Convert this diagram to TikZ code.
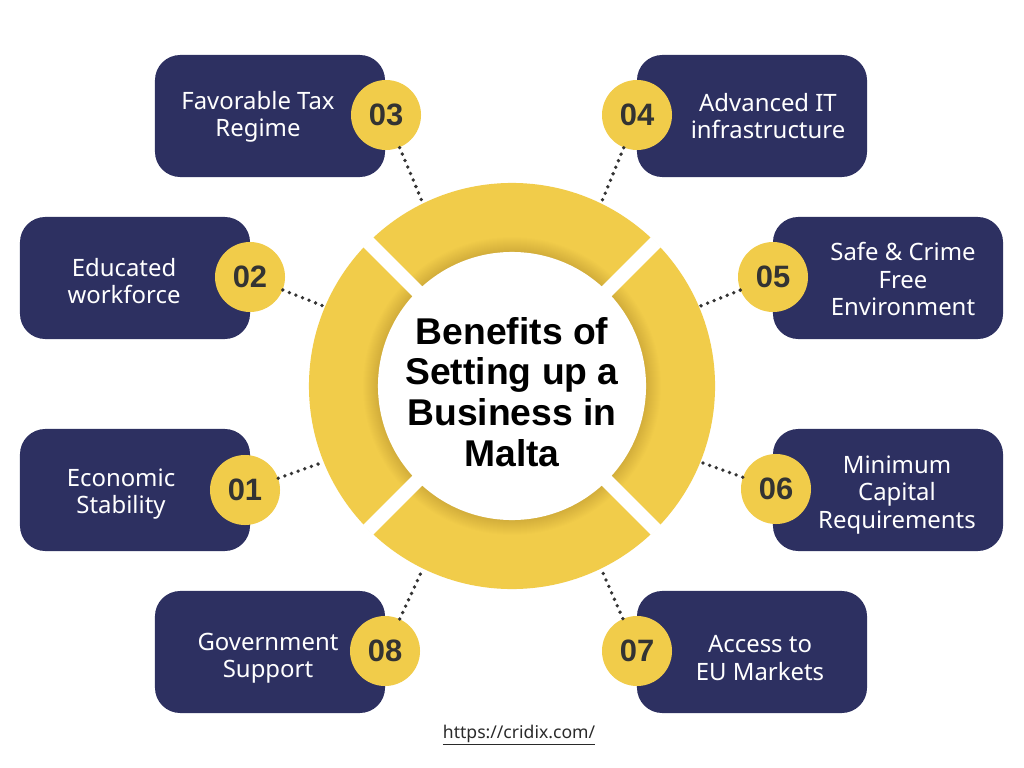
\documentclass[tikz,border=0pt]{standalone}
\usepackage{fontspec}
\setmainfont{Noto Sans}
\newfontfamily\boldsans{Liberation Sans}
\definecolor{navy}{HTML}{2D3061}
\definecolor{gold}{HTML}{F1CC4A}
\definecolor{numc}{HTML}{333333}
\definecolor{urlc}{HTML}{2A2A2A}
\tikzset{
  box/.style={fill=navy, rounded corners=18pt, minimum width=5.75cm, minimum height=3.05cm, inner sep=0pt},
  btext/.style={text=white, align=center, font=\fontsize{17}{19.4}\selectfont},
  num/.style={circle, fill=gold, minimum size=1.75cm, inner sep=0pt, text=numc, font=\fontsize{22}{24}\boldsans\bfseries},
  dots/.style={draw=numc, line width=2.7pt, line cap=round, dash pattern=on 0pt off 5pt},
  gap/.style={draw=white, line width=10pt}
}
\begin{document}
\begin{tikzpicture}[x=0.025cm,y=-0.025cm]
\useasboundingbox[fill=white] (0,0) rectangle (1024,768);
% ring
\node[circle, fill=gold, minimum size=10.15cm, inner sep=0pt] (ring) at (512,386) {};
\foreach \i in {1,...,16}{
  \fill[black, opacity=0.008] (512,386) circle ({150-\i});
}
\draw[gap] (ring.45) -- (ring.225);
\draw[gap] (ring.135) -- (ring.315);
\node[circle, fill=white, minimum size=6.7cm, inner sep=0pt] (inner) at (512,386) {};
\node[align=center, font=\fontsize{26.5}{29}\boldsans\bfseries] (title) at (512,392) {Benefits of\\Setting up a\\Business in\\Malta};
% boxes
\node[box] (b3) at (270,116) {};
\node[box] (b4) at (752,116) {};
\node[box] (b2) at (135,278) {};
\node[box] (b5) at (888,278) {};
\node[box] (b1) at (135,490) {};
\node[box] (b6) at (888,490) {};
\node[box] (b8) at (270,652) {};
\node[box] (b7) at (752,652) {};
\node[btext] (t3) at (258,117) {Favorable Tax\\Regime};
\node[btext] (t4) at (768,116) {Advanced IT\\infrastructure};
\node[btext] (t2) at (124,281) {Educated\\workforce};
\node[btext] (t5) at (903,279) {Safe \& Crime\\Free\\Environment};
\node[btext] (t1) at (121,494) {Economic\\Stability};
\node[btext] (t6) at (897,495) {Minimum\\Capital\\Requirements};
\node[btext] (t8) at (268,658) {Government\\Support};
\node[btext] (t7) at (760,658) {Access to\\EU Markets};
% number circles
\node[num] (c3) at (386,115) {03};
\node[num] (c4) at (637,115) {04};
\node[num] (c2) at (250,277) {02};
\node[num] (c5) at (773,277) {05};
\node[num] (c1) at (245,490) {01};
\node[num] (c6) at (776,489) {06};
\node[num] (c8) at (385,651) {08};
\node[num] (c7) at (637,651) {07};
% connectors
\draw[dots] (c3) -- (ring.116);
\draw[dots] (c4) -- (ring.64);
\draw[dots] (c2) -- (ring.157);
\draw[dots] (c5) -- (ring.23);
\draw[dots] (c1) -- (ring.202);
\draw[dots] (c6) -- (ring.338);
\draw[dots] (c8) -- (ring.244);
\draw[dots] (c7) -- (ring.296);
% url
\node[text=urlc, font=\fontsize{12.5}{14}\selectfont] (url) at (519,735) {\underline{https://cridix.com/}};
\end{tikzpicture}
\end{document}
